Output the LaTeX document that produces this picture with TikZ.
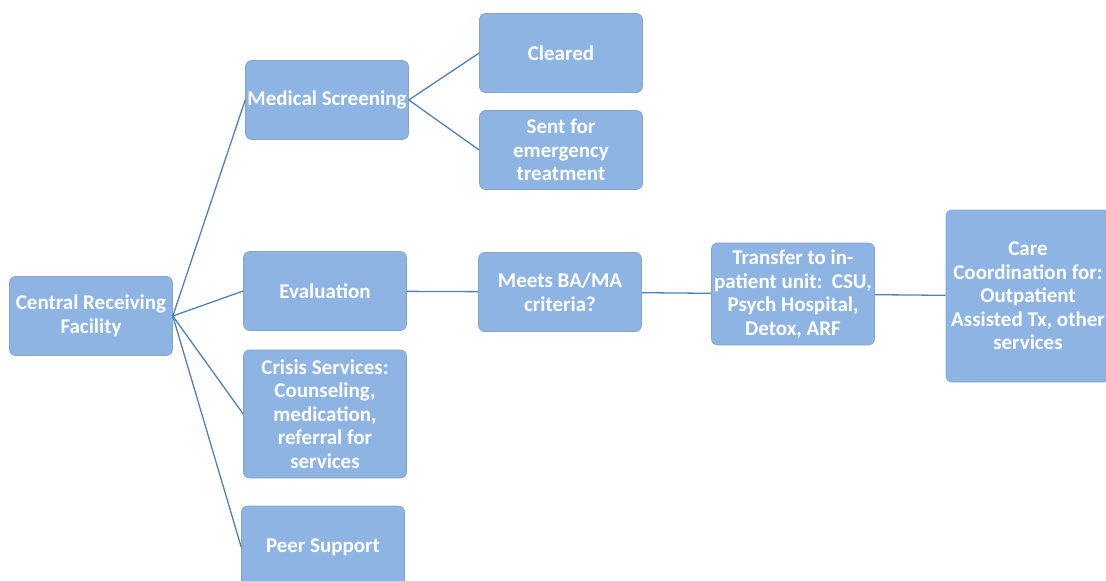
\documentclass[tikz,border=0pt]{standalone}
\usepackage{fontspec}
\setmainfont{Carlito}
\definecolor{boxblue}{RGB}{141,180,226}
\definecolor{lineblue}{RGB}{79,129,189}
\tikzset{
  stepbox/.style={fill=boxblue, draw=boxblue!85!black!90, line width=0.6pt, rounded corners=6pt,
    align=center, minimum width=163pt, minimum height=79pt, inner sep=1pt,
    text=white, font=\fontsize{21}{23.5}\selectfont\bfseries},
  link/.style={draw=lineblue, line width=1.3pt}
}
\begin{document}
\begin{tikzpicture}[x=1pt,y=-1pt]
\useasboundingbox (0,0) rectangle (1106,581);
\node[stepbox] (crf) at (91,316) {Central Receiving\\Facility};
\node[stepbox] (med) at (327,100) {Medical Screening};
\node[stepbox] (clr) at (561,53) {Cleared};
\node[stepbox] (emg) at (561,150) {Sent for\\emergency\\treatment};
\node[stepbox] (evl) at (325,291) {Evaluation};
\node[stepbox, minimum height=128pt] (crs) at (325,414) {Crisis Services:\\Counseling,\\medication,\\referral for\\services};
\node[stepbox, minimum height=82pt] (peer) at (323,547) {Peer Support};
\node[stepbox] (bama) at (560,292) {Meets BA/MA\\criteria?};
\node[stepbox, minimum height=102pt] (tfr) at (793,294) {Transfer to in-\\patient unit:\ \ CSU,\\Psych Hospital,\\Detox, ARF};
\node[stepbox, minimum height=172pt, minimum width=164pt] (care) at (1028,296) {Care\\Coordination for:\\Outpatient\\Assisted Tx, other\\services};
\draw[link] (crf.east) -- (med.west);
\draw[link] (crf.east) -- (evl.west);
\draw[link] (crf.east) -- (crs.west);
\draw[link] (crf.east) -- (peer.west);
\draw[link] (med.east) -- (clr.west);
\draw[link] (med.east) -- (emg.west);
\draw[link] (evl) -- (bama);
\draw[link] (bama) -- (tfr);
\draw[link] (tfr) -- (care);
\end{tikzpicture}
\end{document}
